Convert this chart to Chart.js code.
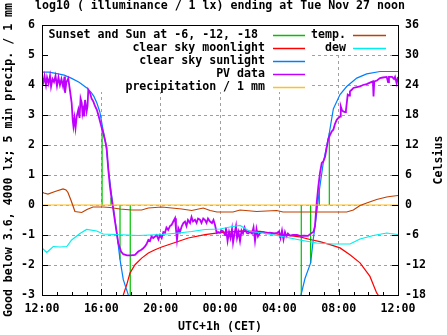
<!DOCTYPE html>
<html>
<head>
<meta charset="utf-8">
<script src="https://cdn.jsdelivr.net/npm/chart.js@4.4.0/dist/chart.umd.min.js"></script>
<style>
  html, body { margin: 0; padding: 0; background: #fff; }
  #wrap { width: 447px; height: 335px; }
</style>
</head>
<body>
<div id="wrap"><canvas id="chart" width="447" height="335"></canvas></div>
<script>
/* ─── Texts ──────────────────────────────────────────────────── */
const chartTitle  = 'log10 ( illuminance / 1 lx) ending at Tue Nov 27 noon';
const leftTitle   = 'Good below 3.6, 4000 lx; 5 min precip. / 1 mm';
const rightTitle  = 'Celsius';
const bottomTitle = 'UTC+1h (CET)';
const xTickLabels = ['12:00', '16:00', '20:00', '00:00', '04:00', '08:00', '12:00'];

/* ─── Data (x = hours after 12:00) ───────────────────────────── */
// sunset and sun at -6, -12, -18 (evening, then morning)
const sunEventHours  = [4.05, 4.65, 5.26, 5.95, 17.48, 18.11, 18.70, 19.37];
const sunEventLevels = [2.55, 0.25, -1.82, -3, -3, -1.93, 0.5, 2.4];

const moonHours  = [5.48, 5.71, 5.93, 6.27, 6.72, 7.17, 7.62, 8.07, 8.97, 9.86, 10.99, 12.0,
                    13.35, 14.70, 16.05, 17.39, 18.07, 18.74, 19.42, 20.09, 20.76, 21.44, 22.11, 22.56, 22.67];
const moonValues = [-3, -2.66, -2.27, -1.99, -1.77, -1.6, -1.49, -1.4, -1.25, -1.1, -0.99, -0.92,
                    -0.87, -0.88, -0.98, -1.06, -1.15, -1.22, -1.32, -1.43, -1.66, -1.93, -2.38, -2.93, -3];

const sunHours  = [0, 0.5, 1, 1.5, 2, 2.5, 3, 3.3, 3.5, 3.7, 3.9, 4.1, 4.3, 4.5, 4.7, 4.9, 5.04, 5.26, 5.48, 5.82,
                   11.6,
                   17.46, 17.73, 18.11, 18.3, 18.5, 18.7, 18.96, 19.37, 19.64, 20.09, 20.54, 21.22, 21.89, 22.79, 24];
const sunValues = [4.43, 4.43, 4.38, 4.33, 4.22, 4.09, 3.91, 3.76, 3.62, 3.4, 3.1, 2.55, 2.05, 1.1, 0.3, -0.4, -0.93, -1.82, -2.49, -3,
                   null,
                   -3, -2.45, -1.93, -1.1, -0.35, 0.5, 1.4, 2.4, 3.2, 3.68, 3.95, 4.23, 4.37, 4.45, 4.45];

const pvHours = [
  0.00, 0.10, 0.17, 0.27, 0.34, 0.44, 0.54, 0.61, 0.71, 0.81, 0.91, 1.01, 1.11, 1.21, 1.31, 1.42, 1.52, 1.55, 1.65, 1.77,
  1.89, 2.00, 2.07, 2.12, 2.19, 2.26, 2.34, 2.45, 2.53, 2.60, 2.68, 2.73, 2.78, 2.84, 2.90, 3.01, 3.07, 3.12, 3.24, 3.34,
  3.46, 3.57, 3.69, 3.80, 3.91, 4.01, 4.13, 4.25, 4.36, 4.47, 4.58, 4.70, 4.81, 4.92, 5.04, 5.14, 5.33, 5.48, 5.73, 6.00,
  6.27, 6.49, 6.67, 6.81, 6.94, 7.05, 7.17, 7.28, 7.38, 7.50, 7.62, 7.73, 7.85, 7.96, 8.07, 8.18, 8.29, 8.39, 8.51, 8.63,
  8.74, 8.85, 8.97, 9.03, 9.10, 9.19, 9.30, 9.42, 9.53, 9.64, 9.74, 9.84, 9.98, 10.08, 10.18, 10.31, 10.42, 10.52, 10.65, 10.75,
  10.87, 10.99, 11.09, 11.19, 11.33, 11.46, 11.56, 11.66, 11.78, 11.87, 12.00, 12.10, 12.22, 12.34, 12.40, 12.51, 12.61, 12.71, 12.81, 12.88,
  12.98, 13.08, 13.15, 13.25, 13.35, 13.45, 13.55, 13.65, 13.80, 13.89, 14.02, 14.16, 14.26, 14.36, 14.46, 14.56, 14.70, 14.90, 15.10, 15.37,
  15.64, 15.84, 15.98, 16.08, 16.18, 16.28, 16.38, 16.48, 16.58, 16.72, 16.92, 17.19, 17.39, 17.66, 17.93, 18.18, 18.30, 18.40, 18.52, 18.63,
  18.74, 18.86, 18.96, 19.08, 19.19, 19.30, 19.42, 19.53, 19.64, 19.75, 19.87, 19.98, 20.09, 20.14, 20.23, 20.31, 20.43, 20.49, 20.61, 20.70,
  20.76, 20.90, 20.99, 21.22, 21.44, 21.64, 21.89, 22.11, 22.31, 22.35, 22.40, 22.58, 22.79, 22.99, 23.24, 23.33, 23.39, 23.60, 23.73, 23.80,
  23.91, 24.00
];
const pvValues = [
  4.25, 4.1, 4.3, 4.0, 4.25, 4.05, 4.3, 3.95, 4.2, 4.1, 4.3, 3.97, 4.25, 4.0, 4.2, 3.95, 4.28, 3.74, 4.1, 4.22,
  3.8, 3.4, 2.84, 2.62, 2.9, 2.57, 2.95, 3.18, 2.9, 3.55, 3.4, 3.05, 3.18, 2.95, 3.5, 3.12, 3.3, 3.84, 3.73, 3.55,
  3.45, 3.3, 3.18, 3.0, 2.79, 2.6, 2.4, 2.15, 1.9, 1.18, 0.62, 0.18, -0.16, -0.55, -0.93, -1.27, -1.55, -1.64, -1.68, -1.68,
  -1.66, -1.55, -1.5, -1.45, -1.38, -1.3, -1.16, -1.2, -1.05, -1.1, -1.05, -1.0, -1.15, -1.0, -1.1, -0.9, -0.93, -0.75, -0.83, -0.7,
  -0.66, -0.55, -0.44, -0.8, -1.16, -0.77, -0.9, -0.71, -0.6, -0.55, -0.7, -0.5, -0.6, -0.4, -0.55, -0.49, -0.6, -0.45, -0.49, -0.6,
  -0.45, -0.5, -0.6, -0.45, -0.55, -0.6, -0.5, -0.66, -0.93, -0.9, -0.93, -0.85, -0.88, -1.0, -0.75, -1.2, -0.9, -1.1, -0.8, -1.25,
  -0.95, -0.7, -1.1, -0.9, -1.2, -0.85, -0.95, -0.75, -0.93, -0.95, -0.9, -0.95, -0.75, -1.2, -0.8, -1.05, -0.93, -0.9, -0.95, -0.92,
  -0.95, -0.93, -0.88, -1.1, -0.85, -1.15, -0.9, -1.05, -0.95, -1.02, -1.0, -1.0, -1.03, -1.02, -1.03, -0.93, -0.9, -0.71, 0.07, 0.62,
  1.07, 1.4, 1.45, 1.6, 1.9, 2.2, 2.34, 2.45, 2.51, 2.7, 2.84, 2.9, 2.95, 3.29, 3.15, 3.12, 3.1, 3.15, 3.68, 3.65,
  3.79, 3.85, 3.9, 3.93, 3.95, 4.0, 4.03, 4.08, 4.12, 3.62, 4.12, 4.15, 4.23, 4.25, 4.27, 4.1, 4.27, 4.27, 4.2, 4.27,
  4.05, 4.27
];

const precipHours  = [0, 24];
const precipValues = [0, 0];

// temperatures in Celsius (right axis)
const tempHours  = [0, 0.13, 0.40, 0.88, 1.42, 1.62, 1.75, 1.96, 2.22, 2.68, 3.03, 3.44, 4.11, 4.58, 5.26, 6.05, 6.72, 7.17, 8.07,
                    9.42, 10.09, 10.87, 11.33, 11.8, 12.88, 13.35, 14.47, 15.82, 16.25, 17.39, 20.54, 20.99, 21.44, 21.89,
                    22.56, 23.24, 23.46, 24];
const tempValues = [2.6, 2.4, 2.2, 2.7, 3.2, 3.0, 2.5, 0.9, -1.3, -1.5, -0.9, -0.4, -0.4, -0.5, -0.8, -1.0, -1.0, -0.6, -0.4,
                    -0.8, -1.1, -0.6, -1.1, -1.4, -1.4, -1.0, -1.3, -1.1, -1.4, -1.4, -1.4, -1.0, -0.1, 0.4,
                    1.1, 1.6, 1.7, 1.9];

const dewHours  = [0, 0.32, 0.76, 1.21, 1.67, 2.0, 2.56, 3.01, 3.69, 4.13, 4.92, 6.49, 8.07, 9.19, 10.09, 10.99, 12.0, 12.67,
                   13.35, 14.02, 14.92, 15.82, 16.72, 17.39, 18.52, 19.64, 20.76, 21.44, 22.34, 23.24, 23.46, 24];
const dewValues = [-8.6, -9.5, -8.3, -8.4, -8.3, -7.0, -5.7, -4.9, -5.2, -5.8, -5.9, -6.1, -5.9, -5.6, -5.3, -4.9, -4.8, -4.4,
                   -4.1, -5.3, -5.6, -6.1, -6.6, -7.0, -7.6, -7.8, -7.8, -6.8, -6.1, -5.6, -5.7, -5.9];

/* ─── Helpers ────────────────────────────────────────────────── */
const FONT = "'DejaVu Sans Mono', 'Liberation Mono', monospace";
const FONT_SIZE = 11.6;

function toPoints(xs, ys) {
  return xs.map((x, i) => ({ x, y: ys[i] }));
}

// vertical impulses from 0 to a level, separated by gaps
function toImpulses(xs, levels) {
  const pts = [];
  xs.forEach((x, i) => {
    pts.push({ x, y: 0 }, { x, y: levels[i] }, { x, y: null });
  });
  return pts;
}

function line(label, data, color, width, order, axis) {
  return {
    label, data,
    borderColor: color,
    backgroundColor: color,
    borderWidth: width,
    pointRadius: 0,
    tension: 0,
    spanGaps: false,
    yAxisID: axis || 'y',
    order,
  };
}

/* ─── Gnuplot-like frame, ticks, legend and titles ───────────── */
const gnuFrame = {
  id: 'gnuFrame',
  beforeDatasetsDraw(chart) {
    // key area hides the grid behind it
    const { ctx, chartArea: a } = chart;
    ctx.save();
    ctx.fillStyle = '#fff';
    ctx.fillRect(a.left + 1, a.top + 1, 267, 66);
    ctx.fillRect(a.left + 1, a.top + 1, 345, 27);
    ctx.restore();
  },
  afterDatasetsDraw(chart) {
    const { ctx, chartArea: a, scales } = chart;
    ctx.save();
    ctx.strokeStyle = '#000';
    ctx.lineWidth = 1;

    // border
    ctx.strokeRect(Math.round(a.left) + 0.5, Math.round(a.top) + 0.5,
                   Math.round(a.right - a.left), Math.round(a.bottom - a.top));

    // ticks pointing inward
    ctx.beginPath();
    for (let h = 0; h <= 24; h++) {
      const x = Math.round(scales.x.getPixelForValue(h)) + 0.5;
      const len = h % 4 === 0 ? 6 : 3;
      ctx.moveTo(x, a.bottom);
      ctx.lineTo(x, a.bottom - len);
    }
    scales.y.ticks.forEach(t => {
      const y = Math.round(scales.y.getPixelForValue(t.value)) + 0.5;
      ctx.moveTo(a.left, y);
      ctx.lineTo(a.left + 6, y);
    });
    scales.y1.ticks.forEach(t => {
      const y = Math.round(scales.y1.getPixelForValue(t.value)) + 0.5;
      ctx.moveTo(a.right, y);
      ctx.lineTo(a.right - 6, y);
    });
    ctx.stroke();

    // key
    const cols = [[0, 1, 2, 3, 4], [5, 6]];
    const textRight = [a.left + 223, a.left + 304];
    const sampleX   = [[a.left + 231, a.left + 263], [a.left + 311, a.left + 344]];
    ctx.font = `bold ${FONT_SIZE}px ${FONT}`;
    ctx.textAlign = 'right';
    ctx.textBaseline = 'middle';
    cols.forEach((col, c) => {
      col.forEach((di, r) => {
        const ds = chart.data.datasets[di];
        const y = a.top + 10 + r * 13.1;
        ctx.fillStyle = '#000';
        ctx.fillText(ds.label, textRight[c], y);
        ctx.strokeStyle = ds.borderColor;
        ctx.lineWidth = 1.5;
        ctx.beginPath();
        ctx.moveTo(sampleX[c][0], Math.round(y) + 0.5);
        ctx.lineTo(sampleX[c][1], Math.round(y) + 0.5);
        ctx.stroke();
      });
    });
    ctx.restore();
  },
  afterDraw(chart) {
    const { ctx, chartArea: a } = chart;
    ctx.save();
    ctx.fillStyle = '#000';
    ctx.font = `bold ${FONT_SIZE}px ${FONT}`;
    ctx.textBaseline = 'middle';
    ctx.textAlign = 'center';
    ctx.fillText(chartTitle, (a.left + a.right) / 2, 6);
    ctx.translate(439, (a.top + a.bottom) / 2);
    ctx.rotate(-Math.PI / 2);
    ctx.fillText(rightTitle, 0, 0);
    ctx.restore();
  },
};

/* ─── Chart ──────────────────────────────────────────────────── */
const gridColor = (min, max) => (ctx) =>
  (ctx.tick && (ctx.tick.value === min || ctx.tick.value === max)) ? 'rgba(0,0,0,0)' : '#a0a0a0';

const tickFont = { family: FONT, size: FONT_SIZE, weight: 'bold' };

new Chart(document.getElementById('chart'), {
  type: 'line',
  data: {
    datasets: [
      line('Sunset and Sun at -6, -12, -18 ', toImpulses(sunEventHours, sunEventLevels), '#00c000', 1.2, 7),
      line('clear sky moonlight', toPoints(moonHours, moonValues), '#ff0000', 1.2, 6),
      line('clear sky sunlight', toPoints(sunHours, sunValues), '#0080ff', 1.2, 5),
      line('PV data', toPoints(pvHours, pvValues), '#c000ff', 1.8, 4),
      line('precipitation / 1 mm', toPoints(precipHours, precipValues), '#ffc020', 1.2, 3),
      line('temp.', toPoints(tempHours, tempValues), '#c04000', 1.2, 2, 'y1'),
      line('dew', toPoints(dewHours, dewValues), '#00eeee', 1.2, 1, 'y1'),
    ],
  },
  options: {
    responsive: false,
    devicePixelRatio: 1,
    animation: false,
    layout: { padding: { top: 25, left: 0, right: 0, bottom: 0 } },
    plugins: { legend: { display: false }, tooltip: { enabled: false } },
    scales: {
      x: {
        type: 'linear',
        min: 0, max: 24,
        afterFit: (s) => { s.height = 40; },
        ticks: {
          stepSize: 4, padding: 7, color: '#000', font: tickFont, maxRotation: 0,
          callback: (v) => xTickLabels[v / 4],
        },
        grid: { color: gridColor(0, 24), drawTicks: false },
        border: { display: false, dash: [3, 3] },
        title: { display: true, text: bottomTitle, color: '#000', font: tickFont, padding: { top: 0, bottom: 1 } },
      },
      y: {
        position: 'left',
        min: -3, max: 6,
        afterFit: (s) => { s.width = 42; },
        ticks: { stepSize: 1, padding: 7, color: '#000', font: tickFont },
        grid: { color: gridColor(-3, 6), drawTicks: false },
        border: { display: false, dash: [3, 3] },
        title: { display: true, text: leftTitle, color: '#000', font: tickFont, padding: { top: 2, bottom: 0 } },
      },
      y1: {
        position: 'right',
        min: -18, max: 36,
        afterFit: (s) => { s.width = 49; },
        ticks: { stepSize: 6, padding: 7, color: '#000', font: tickFont },
        grid: { drawOnChartArea: false, drawTicks: false },
        border: { display: false },
      },
    },
  },
  plugins: [gnuFrame],
});
</script>
</body>
</html>
